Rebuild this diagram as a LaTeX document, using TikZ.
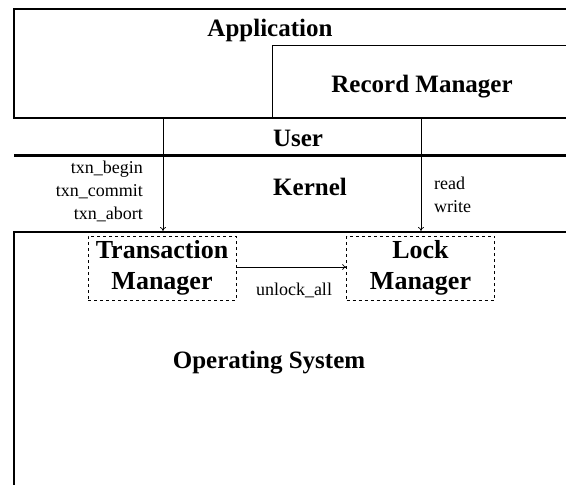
\documentclass[tikz,border=0pt]{standalone}
\usepackage{fontspec}
\setmainfont{Liberation Serif}
\usetikzlibrary{positioning, arrows.meta, calc}

\begin{document}
\begin{tikzpicture}[
  x=1pt, y=-1pt,
  every node/.style={inner sep=0pt, align=center},
  layer/.style={font=\fontsize{25}{31}\selectfont\bfseries},
  call/.style={font=\fontsize{18}{23}\selectfont},
  mgr/.style={draw, dashed, line width=0.6pt, minimum width=148pt, minimum height=64pt,
    font=\fontsize{26}{31}\selectfont\bfseries},
  flow/.style={line width=0.7pt, -{To[length=4pt,width=6pt]}},
]
\useasboundingbox (0,0) rectangle (566,485);

% application and record manager
\draw[line width=1.4pt] (566,9) -- (14,9) -- (14,118) -- (566,118);
\draw[line width=0.7pt] (566,45) -- (272,45) -- (272,118);
\node[layer] (app) at (270,30) {Application};
\node[layer] (recmgr) at (422,87) {Record Manager};

% user / kernel boundary
\draw[line width=3pt] (14,155) -- (566,155);
\node[layer] (user) at (298,138) {User};
\node[layer] (kernel) at (310,187) {Kernel};

% operating system
\draw[line width=2pt] (566,232) -- (14,232) -- (14,485);
\node[layer] (os) at (269,363) {Operating System};

\node[mgr] (txnmgr) at (162,268) {Transaction\\Manager};
\node[mgr] (lockmgr) at (420.5,268) {Lock\\Manager};

\coordinate (txnsrc) at (163,118);
\coordinate (locksrc) at (421,118);
\draw[flow] (txnsrc) -- (txnsrc |- 0,231);
\draw[flow] (locksrc) -- (locksrc |- 0,231);
\draw[flow] (txnmgr.east |- 0,267) -- (lockmgr.west |- 0,267);

\node[call, align=right, anchor=east] (txncalls) at (143,191) {txn\_begin\\txn\_commit\\txn\_abort};
\node[call, align=left, anchor=west] (rwcalls) at (434,195) {read\\write};
\node[call] (unlock) at (294,290) {unlock\_all};
\end{tikzpicture}
\end{document}
